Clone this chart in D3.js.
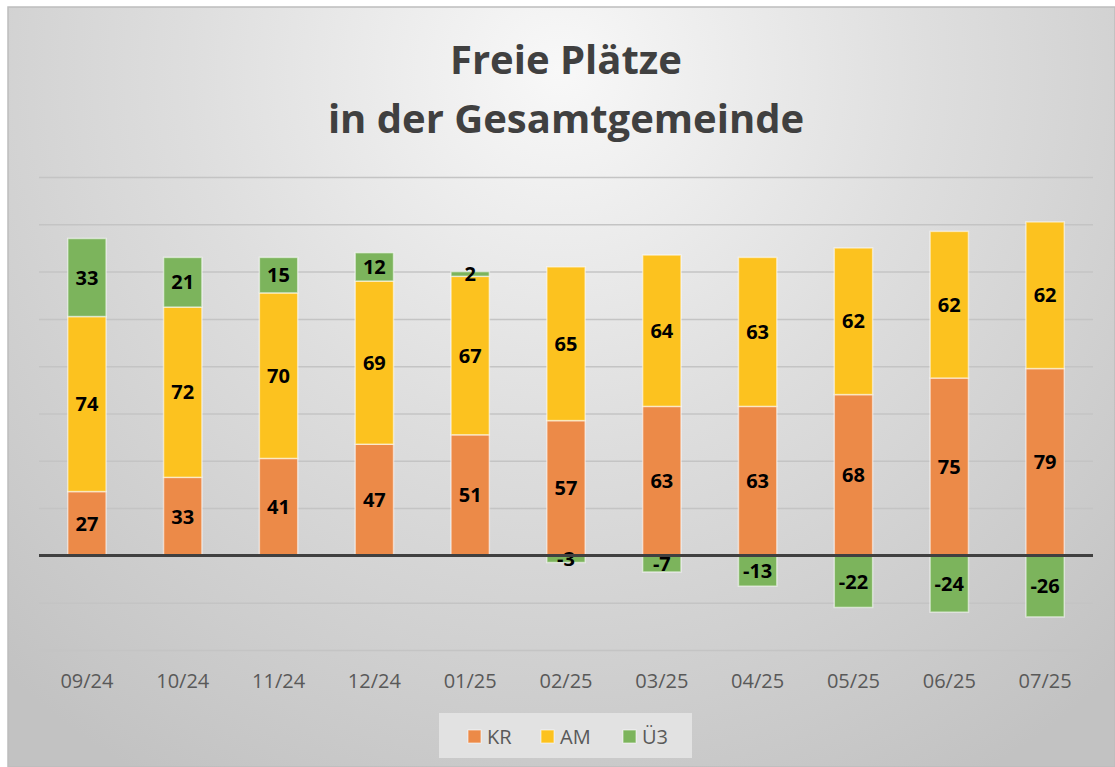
<!DOCTYPE html>
<html>
<head>
<meta charset="utf-8">
<script src="https://cdn.jsdelivr.net/npm/d3@7"></script>
<style>
  html, body { margin: 0; padding: 0; background: #ffffff; }
  svg { display: block; }
</style>
</head>
<body>
<svg></svg>
<script>
let months = ["09/24", "10/24", "11/24", "12/24", "01/25", "02/25", "03/25", "04/25", "05/25", "06/25", "07/25"];
let kr = [27, 33, 41, 47, 51, 57, 63, 63, 68, 75, 79];
let am = [74, 72, 70, 69, 67, 65, 64, 63, 62, 62, 62];
let ue3 = [33, 21, 15, 12, 2, -3, -7, -13, -22, -24, -26];
let seriesNames = ["KR", "AM", "Ü3"];
let titleLines = ["Freie Plätze", "in der Gesamtgemeinde"];
let yTicks = [-40, -20, 0, 20, 40, 60, 80, 100, 120, 140, 160];

let width = 1115;
let height = 767;
let colors = { "KR": "#ec8a48", "AM": "#fcc21f", "Ü3": "#7cb45c" };
let font = "'Open Sans', sans-serif";

let rows = months.map((m, i) => ({ month: m, "KR": kr[i], "AM": am[i], "Ü3": ue3[i] }));

let svg = d3.select("svg")
    .attr("width", width)
    .attr("height", height);

// background
let defs = svg.append("defs");
let grad = defs.append("radialGradient")
    .attr("id", "bg")
    .attr("gradientUnits", "userSpaceOnUse")
    .attr("cx", 560).attr("cy", 70).attr("r", 820);
grad.append("stop").attr("offset", "0%").attr("stop-color", "#f8f8f8");
grad.append("stop").attr("offset", "45%").attr("stop-color", "#dedede");
grad.append("stop").attr("offset", "100%").attr("stop-color", "#c2c2c2");

svg.append("rect")
    .attr("x", 8).attr("y", 7)
    .attr("width", width - 8).attr("height", height - 7)
    .attr("fill", "url(#bg)")
    .attr("stroke", "#bdbdbd")
    .attr("stroke-width", 1.5);

// title
let title = svg.append("g")
    .attr("font-family", font)
    .attr("font-weight", "bold")
    .attr("fill", "#404040")
    .attr("text-anchor", "middle");
titleLines.forEach((t, i) => {
    title.append("text")
         .attr("x", 566)
         .attr("y", 74 + i * 59)
         .attr("font-size", 40)
         .text(t);
});

// scales
let xScale = d3.scaleBand()
    .domain(months)
    .range([39, 1093])
    .paddingInner(0.6)
    .paddingOuter(0.3);

let yScale = d3.scaleLinear()
    .domain([-40, 160])
    .range([650, 177]);

// gridlines
let yAxis = d3.axisLeft(yScale)
    .tickValues(yTicks)
    .tickSize(-(1093 - 39))
    .tickFormat("");

svg.append("g")
   .attr("transform", "translate(39, 0)")
   .call(yAxis)
   .call(g => g.select(".domain").remove())
   .call(g => g.selectAll(".tick line").attr("stroke", "#c4c4c4").attr("stroke-width", 1.5));

// stacked bars
let stack = d3.stack()
    .keys(seriesNames)
    .offset(d3.stackOffsetDiverging);
let stacked = stack(rows);

let layers = svg.selectAll("g.layer")
    .data(stacked)
    .enter()
    .append("g")
    .attr("class", "layer")
    .attr("fill", d => colors[d.key]);

layers.selectAll("rect")
    .data(d => d)
    .enter()
    .append("rect")
    .attr("x", d => xScale(d.data.month))
    .attr("width", xScale.bandwidth())
    .attr("y", d => yScale(d[1]))
    .attr("height", d => yScale(d[0]) - yScale(d[1]))
    .attr("stroke", "rgba(255,255,255,0.55)")
    .attr("stroke-width", 1.5);

// value labels
layers.each(function(layer) {
    d3.select(this).selectAll("text")
      .data(layer)
      .enter()
      .append("text")
      .attr("x", d => xScale(d.data.month) + xScale.bandwidth() / 2)
      .attr("y", d => (yScale(d[0]) + yScale(d[1])) / 2)
      .attr("dy", "0.36em")
      .attr("text-anchor", "middle")
      .attr("font-family", font)
      .attr("font-weight", "bold")
      .attr("font-size", 20)
      .attr("fill", "#000000")
      .text(d => d.data[layer.key]);
});

// zero line
svg.append("line")
   .attr("x1", 39).attr("x2", 1093)
   .attr("y1", yScale(0)).attr("y2", yScale(0))
   .attr("stroke", "#404040")
   .attr("stroke-width", 3);

// x axis labels
let xAxis = d3.axisBottom(xScale).tickSize(0).tickPadding(0);
svg.append("g")
   .attr("transform", "translate(0, 688)")
   .call(xAxis)
   .call(g => g.select(".domain").remove())
   .call(g => g.selectAll("text")
       .attr("dy", 0)
       .attr("font-family", font)
       .attr("font-size", 20)
       .attr("fill", "#595959"));

// legend
let legend = svg.append("g");
legend.append("rect")
      .attr("x", 439).attr("y", 713)
      .attr("width", 253).attr("height", 45)
      .attr("fill", "#e2e2e2");

let legendX = [468, 541, 623];
seriesNames.forEach((s, i) => {
    legend.append("rect")
          .attr("x", legendX[i]).attr("y", 730)
          .attr("width", 13).attr("height", 13)
          .attr("fill", colors[s])
          .attr("stroke", "rgba(255,255,255,0.6)");
    legend.append("text")
          .attr("x", legendX[i] + 19)
          .attr("y", 744)
          .attr("font-family", font)
          .attr("font-size", 20)
          .attr("fill", "#595959")
          .text(s);
});
</script>
</body>
</html>
